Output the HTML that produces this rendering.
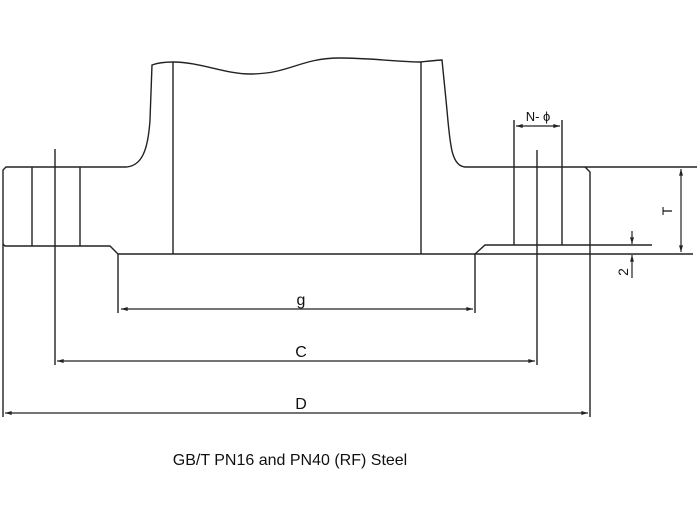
<!DOCTYPE html>
<html><head><meta charset="utf-8"><style>
html,body{margin:0;padding:0;background:#fff;width:700px;height:525px;overflow:hidden}
svg{display:block}
text{font-family:"Liberation Sans",sans-serif;fill:#111}
</style></head><body>
<svg width="700" height="525" viewBox="0 0 700 525" xmlns="http://www.w3.org/2000/svg">
<defs>
<marker id="a" viewBox="0 0 10 6" refX="10" refY="3" markerWidth="7" markerHeight="4" orient="auto-start-reverse" markerUnits="userSpaceOnUse"><path d="M0,0L10,3L0,6z" fill="#222"/></marker>
</defs>
<g fill="none" stroke="#222" stroke-width="1.4">
<path d="M3,417 L3,170 L6,167 L126,167 C142,166 148,150 150,120 L152,65 C160,62 168,62 173,62 C200,62 225,74 250,74 C290,74 300,58 340,58 C370,58 400,62 421,62 C430,61 438,60 442,60 L446,100 C450,140 450,166 465,167 L697,167"/>
<path d="M585,167 L590,172 L590,417"/>
<path d="M3,244 L5,246 L110,246 L118,254 L118,313"/>
<path d="M118,254 L693,254"/>
<path d="M475,313 L475,254 L485,245 L652,245"/>
<path d="M32,167 V246 M80,167 V246 M55,149 V365"/>
<path d="M173,62 V254 M421,62 V254"/>
<path d="M514,120 V245 M562,120 V245 M537,150 V365"/>
</g>
<g stroke="#222" stroke-width="1.2" fill="none">
<line x1="516" y1="126" x2="560" y2="126" marker-start="url(#a)" marker-end="url(#a)"/>
<line x1="681" y1="169" x2="681" y2="252" marker-start="url(#a)" marker-end="url(#a)"/>
<line x1="632" y1="231" x2="632" y2="244" marker-end="url(#a)"/>
<line x1="632" y1="278" x2="632" y2="255" marker-end="url(#a)"/>
<line x1="121" y1="309" x2="473" y2="309" marker-start="url(#a)" marker-end="url(#a)"/>
<line x1="57" y1="361" x2="535" y2="361" marker-start="url(#a)" marker-end="url(#a)"/>
<line x1="5" y1="413" x2="588" y2="413" marker-start="url(#a)" marker-end="url(#a)"/>
</g>
<text x="538" y="121" font-size="13" text-anchor="middle">N- ϕ</text>
<text x="301" y="305" font-size="16" text-anchor="middle">g</text>
<text x="301" y="357" font-size="16" text-anchor="middle">C</text>
<text x="301" y="409" font-size="16" text-anchor="middle">D</text>
<text transform="translate(672,211) rotate(-90)" font-size="14" text-anchor="middle">T</text>
<text transform="translate(628,272) rotate(-90)" font-size="14" text-anchor="middle">2</text>
<text x="290" y="465" font-size="16" text-anchor="middle">GB/T PN16 and PN40 (RF) Steel</text>
</svg>
</body></html>
